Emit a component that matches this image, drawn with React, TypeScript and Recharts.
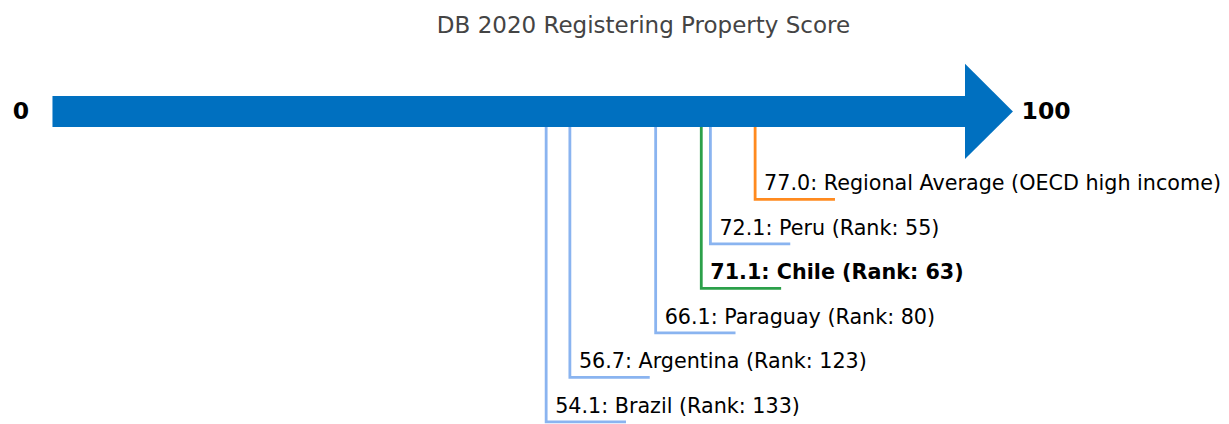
import React from "react";
import { ScatterChart, Scatter, XAxis, YAxis, ReferenceArea } from "recharts";

// scores and labels
const names = [
  "Regional Average (OECD high income)",
  "Peru (Rank: 55)",
  "Chile (Rank: 63)",
  "Paraguay (Rank: 80)",
  "Argentina (Rank: 123)",
  "Brazil (Rank: 133)",
];
const scores = [77.0, 72.1, 71.1, 66.1, 56.7, 54.1];
const rows = [1, 2, 3, 4, 5, 6]; // row under the arrow, top to bottom
const kinds = ["region", "peer", "focus", "peer", "peer", "peer"];

const SCALE_MIN = 0;
const SCALE_MAX = 100;
const TITLE = "DB 2020 Registering Property Score";

// layout in data units
const X_DOMAIN = [-5.75, 128.93];
const Y_DOMAIN = [-3.48, 6.05];
const SHAFT_CENTER = -0.975;
const SHAFT_HALF = 0.35;
const HEAD_HALF = 1.07;
const HEAD_LEN = 5.25;
const TAIL = 8.75;

const W = 1229;
const H = 424;
const FONT = "'DejaVu Sans', sans-serif";

const COLORS: Record<string, string> = {
  region: "#ff8a1f",
  peer: "#8ab4f0",
  focus: "#2ca04a",
};

const Hidden = () => <g />;

const LabelShape = (props: any) => {
  const p = props.payload;
  return (
    <text
      x={props.cx}
      y={props.cy}
      dx={9}
      dy={-9}
      fontFamily={FONT}
      fontSize={20.7}
      fontWeight={p.bold ? "bold" : "normal"}
      fill="#000"
    >
      {p.label}
    </text>
  );
};

const EndShape = (props: any) => {
  const p = props.payload;
  return (
    <text
      x={props.cx}
      y={props.cy}
      textAnchor={p.anchor}
      dominantBaseline="central"
      fontFamily={FONT}
      fontSize={23.5}
      fontWeight="bold"
      fill="#000"
    >
      {p.label}
    </text>
  );
};

const Head = (props: any) => {
  const { x, y, width, height } = props;
  return (
    <polygon
      points={`${x},${y} ${x + width},${y + height / 2} ${x},${y + height}`}
      fill="#0070c0"
    />
  );
};

export default function App() {
  const shaftBottom = SHAFT_CENTER + SHAFT_HALF;

  const labelData = scores.map((s, i) => ({
    x: s,
    y: rows[i],
    label: `${s.toFixed(1)}: ${names[i]}`,
    bold: kinds[i] === "focus",
  }));

  const endData = [
    { x: SCALE_MIN - 3.45, y: SHAFT_CENTER, label: String(SCALE_MIN), anchor: "middle" },
    { x: SCALE_MAX + HEAD_LEN + 0.95, y: SHAFT_CENTER, label: String(SCALE_MAX), anchor: "start" },
  ];

  return (
    <div style={{ position: "absolute", left: 0, top: 0, width: W, height: H, background: "#fff" }}>
      <svg width={W} height={H} style={{ position: "absolute", left: 0, top: 0 }}>
        <text
          x={643.5}
          y={33}
          textAnchor="middle"
          fontFamily={FONT}
          fontSize={23}
          fill="#444"
        >
          {TITLE}
        </text>
      </svg>
      <div style={{ position: "absolute", left: 0, top: 0 }}>
        <ScatterChart width={W} height={H} margin={{ top: 0, right: 0, bottom: 0, left: 0 }}>
          <XAxis type="number" dataKey="x" domain={X_DOMAIN} hide />
          <YAxis type="number" dataKey="y" domain={Y_DOMAIN} reversed hide />

          <ReferenceArea
            x1={SCALE_MIN}
            x2={SCALE_MAX}
            y1={SHAFT_CENTER - SHAFT_HALF}
            y2={SHAFT_CENTER + SHAFT_HALF}
            fill="#0070c0"
            fillOpacity={1}
            ifOverflow="visible"
          />
          <ReferenceArea
            x1={SCALE_MAX}
            x2={SCALE_MAX + HEAD_LEN}
            y1={SHAFT_CENTER - HEAD_HALF}
            y2={SHAFT_CENTER + HEAD_HALF}
            shape={Head}
            ifOverflow="visible"
          />

          {scores.map((s, i) => (
            <Scatter
              key={names[i]}
              data={[
                { x: s, y: shaftBottom },
                { x: s, y: rows[i] },
                { x: s + TAIL, y: rows[i] },
              ]}
              fill={COLORS[kinds[i]]}
              line={{ stroke: COLORS[kinds[i]], strokeWidth: 2.8 }}
              lineType="joint"
              shape={Hidden}
              isAnimationActive={false}
            />
          ))}

          <Scatter data={labelData} shape={LabelShape} isAnimationActive={false} />
          <Scatter data={endData} shape={EndShape} isAnimationActive={false} />
        </ScatterChart>
      </div>
    </div>
  );
}
